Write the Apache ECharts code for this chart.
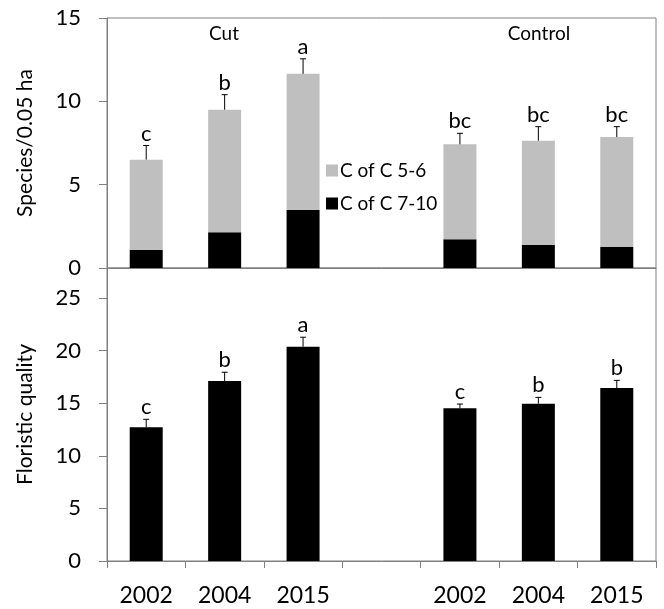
<!DOCTYPE html>
<html><head><meta charset="utf-8">
<script src="https://cdn.jsdelivr.net/npm/echarts@6/dist/echarts.min.js"></script>
<style>html,body{margin:0;padding:0;background:#fff}#c{width:664px;height:609px}</style>
</head><body><div id="c"></div>
<script>
const categories = ['2002','2004','2015','','2002','2004','2015'];
// Top panel: species richness
const spTotal = [6.5, 9.5, 11.65, null, 7.42, 7.64, 7.86];
const spHigh  = [1.1, 2.14, 3.48, null, 1.72, 1.38, 1.28];   // C of C 7-10
const spErr   = [0.85, 0.9, 0.9, null, 0.66, 0.84, 0.62];
const spLetters = ['c','b','a','','bc','bc','bc'];
// Bottom panel: floristic quality
const fq      = [12.71, 17.11, 20.37, null, 14.51, 14.95, 16.44];
const fqErr   = [0.76, 0.83, 0.9, null, 0.41, 0.6, 0.73];
const fqLetters = ['c','b','a','','c','b','b'];
const topTicks = [0, 5, 10, 15];
const botTicks = [0, 5, 10, 15, 20, 25];

const FONT = 'Lato';
const AX = '#808080';
const spMid = spTotal.map((t,i)=> t==null ? '-' : +(t - spHigh[i]).toFixed(2));
const spLow = spHigh.map(v => v==null ? '-' : v);
const fqBar = fq.map(v => v==null ? '-' : v);

function errData(tops, errs, letters){
  const out=[];
  tops.forEach((t,i)=>{ if(t!=null) out.push([i,t,errs[i],letters[i]]); });
  return out;
}
function renderErr(params, api){
  const x = api.value(0), top = api.value(1), e = api.value(2);
  const letter = errLetters[params.seriesIndex][params.dataIndexInside];
  const p0 = api.coord([x, top]);
  const p1 = api.coord([x, top + e]);
  return {type:'group', children:[
    {type:'line', shape:{x1:p0[0],y1:p0[1],x2:p1[0],y2:p1[1]}, style:{stroke:'#000',lineWidth:1}},
    {type:'line', shape:{x1:p1[0]-3,y1:p1[1],x2:p1[0]+3,y2:p1[1]}, style:{stroke:'#000',lineWidth:1}},
    {type:'text', x:p1[0], y:p1[1]-1, style:{text:letter, fill:'#000', font:'22px '+FONT, align:'center', verticalAlign:'bottom'}}
  ]};
}
const topErr = errData(spTotal, spErr, spLetters);
const botErr = errData(fq, fqErr, fqLetters);
const errLetters = {3: topErr.map(d=>d[3]), 4: botErr.map(d=>d[3])};

const chart = echarts.init(document.getElementById('c'), null, {renderer:'canvas'});
chart.setOption({
  animation:false,
  textStyle:{fontFamily:FONT},
  grid:[
    {left:107, right:8, top:18, height:250, show:true, borderColor:AX, borderWidth:1},
    {left:107, right:8, top:268, height:293, show:true, borderColor:AX, borderWidth:1}
  ],
  legend:{
    orient:'vertical', left:321, top:156, itemWidth:12, itemHeight:12, itemGap:14,
    icon:'rect', data:['C of C 5-6','C of C 7-10'],
    textStyle:{fontFamily:FONT, fontSize:19, color:'#000', padding:[0,0,0,-3]}
  },
  xAxis:[
    {type:'category', gridIndex:0, data:categories, boundaryGap:true,
     axisLine:{lineStyle:{color:AX}}, axisTick:{show:false}, axisLabel:{show:false}},
    {type:'category', gridIndex:1, data:categories, boundaryGap:true,
     axisLine:{lineStyle:{color:AX}}, axisTick:{show:true, interval:0, length:7, lineStyle:{color:AX}},
     axisLabel:{interval:0, color:'#000', fontSize:23, fontFamily:FONT, margin:23}}
  ],
  yAxis:[
    {type:'value', gridIndex:0, min:0, max:15, interval:5, splitLine:{show:false},
     axisLine:{show:true, lineStyle:{color:AX}}, axisTick:{show:true, length:8, lineStyle:{color:AX}},
     axisLabel:{color:'#000', fontSize:22, fontFamily:FONT, margin:26,
       formatter:v=> topTicks.includes(v) ? String(v) : ''},
     name:'Species/0.05 ha', nameLocation:'middle', nameGap:71,
     nameTextStyle:{fontSize:21, color:'#000', fontFamily:FONT}},
    {type:'value', gridIndex:1, min:0, max:27.85, interval:5, splitLine:{show:false},
     axisLine:{show:true, lineStyle:{color:AX}}, axisTick:{show:true, length:8, lineStyle:{color:AX}},
     axisLabel:{color:'#000', fontSize:22, fontFamily:FONT, margin:26, showMaxLabel:false,
       formatter:v=> botTicks.includes(v) ? String(v) : ''},
     name:'Floristic quality', nameLocation:'middle', nameGap:71,
     nameTextStyle:{fontSize:21, color:'#000', fontFamily:FONT}}
  ],
  series:[
    {name:'C of C 7-10', type:'bar', xAxisIndex:0, yAxisIndex:0, stack:'sp', barWidth:33,
     itemStyle:{color:'#000'}, data:spLow},
    {name:'C of C 5-6', type:'bar', xAxisIndex:0, yAxisIndex:0, stack:'sp', barWidth:33,
     itemStyle:{color:'#bfbfbf'}, data:spMid},
    {name:'FQ', type:'bar', xAxisIndex:1, yAxisIndex:1, barWidth:33,
     itemStyle:{color:'#000'}, data:fqBar},
    {type:'custom', xAxisIndex:0, yAxisIndex:0, renderItem:renderErr, data:topErr.map(d=>[d[0],d[1],d[2]]), z:5},
    {type:'custom', xAxisIndex:1, yAxisIndex:1, renderItem:renderErr, data:botErr.map(d=>[d[0],d[1],d[2]]), z:5}
  ],
  graphic:[
    {type:'text', x:224, y:34, style:{text:'Cut', font:'19px '+FONT, fill:'#000', align:'center', verticalAlign:'middle'}},
    {type:'text', x:539, y:34, style:{text:'Control', font:'19px '+FONT, fill:'#000', align:'center', verticalAlign:'middle'}}
  ]
});
</script></body></html>
